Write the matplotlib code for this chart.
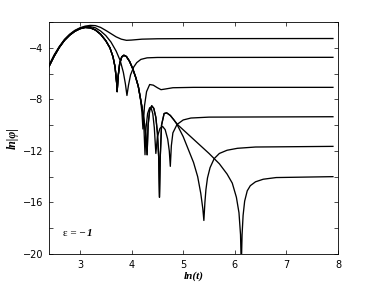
import matplotlib
matplotlib.use("Agg")
import matplotlib.pyplot as plt

# shared start of all curves (ln t, ln|phi|)
rise_t = [2.4, 2.5, 2.6, 2.7, 2.8, 2.9, 3.0, 3.1, 3.2, 3.3]

# curve 1, highest plateau
c1_t = rise_t + [3.4, 3.5, 3.6, 3.7, 3.8, 3.9, 4.0, 4.2, 4.5, 5.0, 7.9]
c1_y = [-5.35, -4.55, -3.9, -3.35, -2.95, -2.65, -2.45, -2.32, -2.26, -2.28,
        -2.42, -2.65, -2.9, -3.15, -3.33, -3.42, -3.4, -3.33, -3.3, -3.29, -3.28]

# curve 2
c2_t = rise_t + [3.4, 3.5, 3.6, 3.7, 3.78, 3.84, 3.88, 3.91, 3.94, 3.98, 4.04,
                 4.1, 4.18, 4.3, 4.5, 7.9]
c2_y = [-5.4, -4.6, -3.93, -3.38, -2.98, -2.68, -2.48, -2.37, -2.36, -2.45,
        -2.7, -3.05, -3.55, -4.25, -5.0, -5.9, -6.8, -7.7, -6.9, -6.1, -5.5,
        -5.15, -4.9, -4.78, -4.75, -4.74]

# bundle shared by curves 3-6
bundle_t = rise_t + [3.4, 3.5, 3.58, 3.64, 3.68, 3.71, 3.72, 3.74, 3.77, 3.81,
                     3.85, 3.9, 3.96, 4.02, 4.08, 4.13, 4.17]
bundle_y = [-5.45, -4.65, -3.97, -3.42, -3.02, -2.72, -2.52, -2.42, -2.45, -2.62,
            -2.95, -3.45, -4.0, -4.7, -5.5, -6.7, -7.4, -6.2, -5.2, -4.7,
            -4.58, -4.68, -5.05, -5.6, -6.3, -7.0, -7.9]

c3_t = [4.2, 4.22, 4.25, 4.29, 4.35, 4.42, 4.5, 4.57, 4.65, 4.8, 5.2, 7.9]
c3_y = [-9.0, -10.3, -8.5, -7.4, -6.85, -6.9, -7.1, -7.25, -7.2, -7.1, -7.07, -7.07]

c4_t = [4.21, 4.24, 4.26, 4.28, 4.31, 4.35, 4.38, 4.41, 4.44, 4.47, 4.5, 4.55,
        4.6, 4.65, 4.7, 4.73, 4.75, 4.77, 4.8, 4.88, 5.0, 5.15, 5.5, 7.9]
c4_y = [-8.8, -10.3, -12.3, -10.2, -9.1, -8.65, -8.7, -9.1, -10.2, -12.2, -10.9,
        -10.25, -10.1, -10.35, -11.1, -12.0, -13.2, -11.6, -10.6, -9.95, -9.6,
        -9.45, -9.38, -9.35]

# part shared by curves 5 and 6
c56_t = [4.21, 4.25, 4.28, 4.30, 4.32, 4.35, 4.39, 4.43, 4.47, 4.5, 4.525, 4.54,
         4.555, 4.58, 4.63, 4.68, 4.75, 4.82]
c56_y = [-8.8, -9.9, -11.0, -12.3, -10.0, -8.85, -8.5, -8.7, -9.4, -10.6, -12.5,
         -15.6, -12.5, -10.0, -9.1, -9.05, -9.25, -9.6]

c5_t = [4.88, 5.0, 5.1, 5.2, 5.28, 5.34, 5.38, 5.40, 5.42, 5.44, 5.47, 5.52,
        5.6, 5.7, 5.85, 6.05, 6.4, 7.9]
c5_y = [-9.95, -10.9, -11.9, -12.9, -14.0, -15.3, -16.5, -17.4, -16.0, -15.0,
        -14.1, -13.3, -12.6, -12.2, -11.95, -11.8, -11.7, -11.65]

c6_t = [4.9, 5.2, 5.5, 5.7, 5.85, 5.95, 6.03, 6.08, 6.11, 6.125, 6.14, 6.16,
        6.19, 6.24, 6.3, 6.4, 6.55, 6.8, 7.9]
c6_y = [-10.0, -11.1, -12.2, -13.0, -13.8, -14.5, -15.6, -16.8, -18.5, -21.0,
        -18.5, -17.0, -15.9, -15.1, -14.7, -14.4, -14.2, -14.07, -14.0]

x_ticks = [3, 4, 5, 6, 7, 8]
y_ticks = [-20, -18, -16, -14, -12, -10, -8, -6, -4, -2]
y_labels = ["\u221220", "", "\u221216", "", "\u221212", "", "\u22128", "", "\u22124", ""]

curves = [
    (c1_t, c1_y),
    (c2_t, c2_y),
    (bundle_t + c3_t, bundle_y + c3_y),
    (bundle_t + c4_t, bundle_y + c4_y),
    (bundle_t + c56_t + c5_t, bundle_y + c56_y + c5_y),
    (bundle_t + c56_t + c6_t, bundle_y + c56_y + c6_y),
]

fig = plt.figure(figsize=(3.74, 2.86), dpi=100)
ax = fig.add_axes([0.131, 0.112, 0.773, 0.811])

for t, y in curves:
    ax.plot(t, y, color="black", linewidth=0.95)

ax.set_xlim(2.4, 8)
ax.set_ylim(-20, -2)
ax.set_xticks(x_ticks)
ax.set_yticks(y_ticks)
ax.set_yticklabels(y_labels)
ax.tick_params(direction="in", length=3, width=0.5, labelsize=7,
               top=True, right=True, pad=4)
for s in ax.spines.values():
    s.set_linewidth(0.6)

serif = "Liberation Serif"
ax.set_xlabel("ln(t)", family=serif, style="italic", weight="bold",
              fontsize=8, labelpad=1)
ax.set_ylabel("ln|\u03c6|", family=serif, style="italic", weight="bold",
              fontsize=8.5, labelpad=3)
# epsilon label, the 1 is bold italic
eps = ax.text(2.67, -18.45, "\u03b5 = \u2212", family=serif, fontsize=8,
              va="center")
ax.annotate("1", xy=(1, 0.5), xycoords=eps, xytext=(0.5, 0),
            textcoords="offset points", family=serif, style="italic",
            weight="bold", fontsize=8, va="center")

fig.savefig("out.png", dpi=100)
